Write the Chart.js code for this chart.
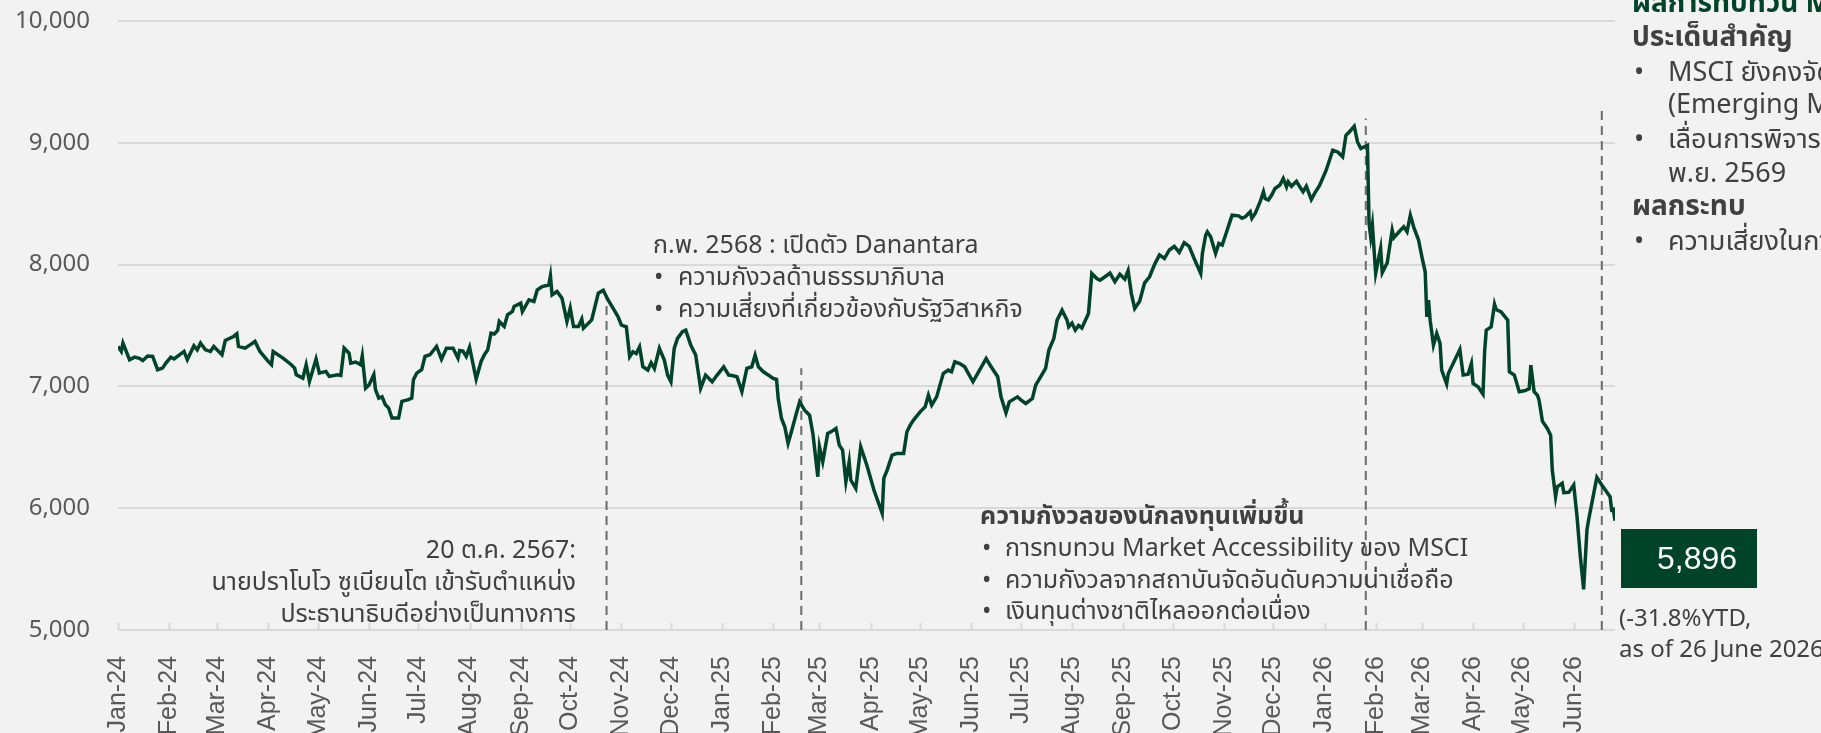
<!DOCTYPE html>
<html>
<head>
<meta charset="utf-8">
<script src="https://cdn.jsdelivr.net/npm/chart.js@4.4.1/dist/chart.umd.min.js"></script>
<style>
  html, body { margin: 0; padding: 0; background: #F2F2F2; }
  #wrap { width: 1821px; height: 733px; position: relative; }
</style>
</head>
<body>
<div id="wrap"><canvas id="setChart"></canvas></div>
<script>
// SET index, days counted from 1 Jan 2024
const tradeDay = [
  0, 2, 3, 7, 10, 13, 15, 18, 21, 24, 27, 29, 32, 34, 36, 40, 42, 46, 48, 50,
  53, 56, 58, 63, 65, 70, 72, 73, 77, 80, 83, 86, 91, 93, 94, 100, 105, 107, 108, 112,
  114, 116, 120, 122, 126, 128, 133, 135, 137, 140, 141, 144, 147, 148, 150, 152, 155, 156, 158, 160,
  162, 164, 166, 170, 172, 176, 178, 179, 181, 184, 186, 189, 193, 196, 199, 203, 206, 207, 209, 211,
  213, 217, 220, 222, 224, 226, 228, 230, 231, 234, 236, 239, 240, 244, 245, 249, 252, 254, 257, 261,
  262, 263, 266, 269, 272, 274, 276, 279, 281, 282, 287, 289, 291, 294, 297, 300, 303, 305, 308, 310,
  312, 314, 316, 318, 321, 323, 325, 328, 331, 333, 335, 337, 339, 342, 344, 347, 350, 353, 356, 360,
  363, 367, 370, 372, 375, 378, 381, 384, 386, 388, 391, 394, 397, 399, 400, 402, 404, 406, 408, 411,
  413, 416, 419, 421, 424, 425, 427, 430, 432, 435, 437, 439, 441, 443, 444, 447, 450, 454, 458, 463,
  464, 466, 469, 472, 476, 478, 480, 482, 486, 489, 491, 493, 496, 500, 503, 505, 507, 510, 513, 518,
  522, 526, 529, 533, 535, 538, 540, 545, 547, 550, 554, 556, 559, 562, 564, 567, 569, 572, 575, 576,
  578, 580, 582, 584, 588, 590, 593, 595, 598, 601, 604, 607, 610, 612, 614, 616, 619, 622, 625, 628,
  631, 634, 637, 640, 643, 646, 649, 652, 656, 657, 659, 660, 662, 665, 667, 669, 671, 673, 675, 679,
  681, 683, 686, 687, 689, 692, 694, 695, 697, 699, 701, 704, 706, 708, 709, 711, 714, 716, 718, 720,
  723, 725, 728, 732, 734, 736, 739, 742, 744, 746, 749, 751, 753, 755, 757, 758, 759, 760, 762, 765,
  766, 769, 772, 773, 777, 779, 781, 783, 785, 788, 790, 792, 793, 794, 795, 797, 799, 801, 802, 805,
  806, 813, 815, 818, 820, 821, 824, 827, 828, 829, 832, 834, 835, 838, 842, 843, 846, 849, 852, 855,
  856, 858, 860, 861, 863, 866, 868, 869, 871, 872, 875, 876, 879, 882, 884, 886, 888, 890, 891, 896,
  899, 904, 905, 906, 907
];
const setClose = [
  7328, 7287, 7355, 7219, 7240, 7230, 7213, 7250, 7246, 7137, 7150, 7191, 7240, 7225, 7246, 7287, 7220, 7333, 7300, 7355,
  7300, 7287, 7328, 7260, 7377, 7410, 7432, 7328, 7314, 7341, 7369, 7287, 7205, 7178, 7287, 7232, 7178, 7150, 7096, 7068,
  7178, 7041, 7224, 7109, 7123, 7082, 7096, 7090, 7314, 7273, 7191, 7200, 7178, 7251, 6986, 7010, 7096, 6973, 6904, 6915,
  6850, 6822, 6740, 6740, 6877, 6891, 6904, 7055, 7109, 7137, 7246, 7260, 7328, 7224, 7314, 7314, 7232, 7295, 7290, 7246,
  7322, 7060, 7205, 7260, 7300, 7437, 7430, 7459, 7533, 7492, 7587, 7615, 7656, 7683, 7615, 7710, 7697, 7792, 7820, 7833,
  7907, 7751, 7779, 7724, 7533, 7642, 7492, 7492, 7552, 7478, 7546, 7656, 7765, 7790, 7708, 7640, 7571, 7503, 7489, 7243,
  7284, 7270, 7325, 7161, 7134, 7194, 7147, 7312, 7216, 7093, 7038, 7312, 7394, 7449, 7462, 7339, 7257, 6984, 7093, 7038,
  7093, 7161, 7093, 7090, 7079, 6957, 7148, 7161, 7257, 7161, 7120, 7093, 7065, 7057, 6900, 6737, 6668, 6532, 6627, 6778,
  6873, 6805, 6764, 6614, 6258, 6504, 6381, 6614, 6627, 6655, 6518, 6477, 6218, 6381, 6231, 6163, 6504, 6340, 6149, 5958,
  6245, 6313, 6436, 6450, 6450, 6628, 6682, 6723, 6791, 6832, 6928, 6846, 6914, 7106, 7134, 7120, 7202, 7188, 7161, 7038,
  7134, 7229, 7161, 7079, 6914, 6784, 6873, 6914, 6890, 6860, 6900, 7010, 7079, 7147, 7298, 7394, 7544, 7626, 7544, 7489,
  7520, 7462, 7500, 7480, 7599, 7927, 7886, 7872, 7900, 7930, 7860, 7920, 7880, 7950, 7760, 7640, 7700, 7850, 7900, 8000,
  8080, 8050, 8120, 8150, 8100, 8180, 8150, 8050, 7927, 8091, 8241, 8269, 8228, 8091, 8173, 8160, 8241, 8324, 8406, 8400,
  8380, 8393, 8434, 8380, 8420, 8516, 8598, 8543, 8530, 8571, 8625, 8653, 8707, 8639, 8680, 8643, 8684, 8639, 8598, 8643,
  8534, 8585, 8649, 8775, 8857, 8939, 8925, 8885, 9062, 9089, 9136, 9007, 8953, 8966, 8980, 8337, 8228, 8324, 7927, 8133,
  7934, 8015, 8282, 8221, 8282, 8310, 8269, 8406, 8310, 8200, 8064, 7941, 7571, 7708, 7544, 7339, 7435, 7353, 7134, 7020,
  7106, 7303, 7093, 7100, 7188, 7024, 6997, 6937, 7284, 7462, 7489, 7675, 7631, 7612, 7544, 7120, 7093, 6956, 6964, 6980,
  7174, 6956, 6928, 6887, 6715, 6655, 6600, 6313, 6094, 6176, 6204, 6128, 6130, 6190, 5930, 5602, 5334, 5821, 5903, 6253,
  6190, 6094, 5985, 5990, 5896
];

const monthLabels = [
  'Jan-24', 'Feb-24', 'Mar-24', 'Apr-24', 'May-24', 'Jun-24', 'Jul-24', 'Aug-24', 'Sep-24', 'Oct-24', 'Nov-24', 'Dec-24',
  'Jan-25', 'Feb-25', 'Mar-25', 'Apr-25', 'May-25', 'Jun-25', 'Jul-25', 'Aug-25', 'Sep-25', 'Oct-25', 'Nov-25', 'Dec-25',
  'Jan-26', 'Feb-26', 'Mar-26', 'Apr-26', 'May-26', 'Jun-26'
];
const yTicks = [5000, 6000, 7000, 8000, 9000, 10000];

// event markers (dashed lines): day and top value
const eventDays = [296, 414, 756, 899];
const eventTops = [7720, 7150, 9200, 9290];

const lastValue = '5,896';

const startDate = new Date(2024, 0, 1);
const monthDays = monthLabels.map((_, i) => Math.round((new Date(2024, i, 1) - startDate) / 86400000));

const GREEN = '#00432B';
const TEXT = '#404040';
const AXIS_TEXT = '#595959';
const GRID = '#D9D9D9';
const THAI = "'Noto Sans Thai', 'Noto Sans', 'DejaVu Sans', sans-serif";

const datasets = [{
  data: tradeDay.map((d, i) => ({ x: d, y: setClose[i] })),
  borderColor: GREEN,
  borderWidth: 3.5,
  pointRadius: 0,
  tension: 0,
  order: 0,
}];
eventDays.forEach((d, i) => {
  datasets.push({
    data: [{ x: d, y: 5000 }, { x: d, y: eventTops[i] }],
    borderColor: '#6B6B6B',
    borderWidth: 2,
    borderDash: [9, 6],
    pointRadius: 0,
    order: 1,
  });
});

// small tick marks standing on the axis line
const innerTicks = {
  id: 'innerTicks',
  afterDatasetsDraw(chart) {
    const { ctx, scales: { x }, chartArea } = chart;
    ctx.save();
    ctx.strokeStyle = GRID;
    ctx.lineWidth = 2;
    monthDays.forEach((d) => {
      const px = Math.round(x.getPixelForValue(d)) + 0.5;
      ctx.beginPath();
      ctx.moveTo(px, chartArea.bottom);
      ctx.lineTo(px, chartArea.bottom - 7);
      ctx.stroke();
    });
    ctx.restore();
  },
};

function bulletLines(ctx, x, bx, lines) {
  lines.forEach(([txt, y, bullet]) => {
    if (bullet) {
      ctx.fillText('•', bx, y);
    }
    ctx.fillText(txt, x, y);
  });
}

const notes = {
  id: 'notes',
  afterDraw(chart) {
    const { ctx } = chart;
    ctx.save();
    ctx.textBaseline = 'alphabetic';
    ctx.fillStyle = TEXT;

    // 20 Oct 2024
    ctx.font = `25px ${THAI}`;
    ctx.textAlign = 'right';
    ctx.fillText('20 ต.ค. 2567:', 576, 558);
    ctx.fillText('นายปราโบโว ซูเบียนโต เข้ารับตำแหน่ง', 576, 590);
    ctx.fillText('ประธานาธิบดีอย่างเป็นทางการ', 576, 622);

    // Feb 2025
    ctx.textAlign = 'left';
    ctx.fillText('ก.พ. 2568 : เปิดตัว Danantara', 653, 253);
    bulletLines(ctx, 678, 654, [
      ['ความกังวลด้านธรรมาภิบาล', 285, true],
      ['ความเสี่ยงที่เกี่ยวข้องกับรัฐวิสาหกิจ', 317, true],
    ]);

    // investor worries
    ctx.font = `bold 25px ${THAI}`;
    ctx.fillText('ความกังวลของนักลงทุนเพิ่มขึ้น', 980, 524);
    ctx.font = `25px ${THAI}`;
    bulletLines(ctx, 1005, 982, [
      ['การทบทวน Market Accessibility ของ MSCI', 556, true],
      ['ความกังวลจากสถาบันจัดอันดับความน่าเชื่อถือ', 588, true],
      ['เงินทุนต่างชาติไหลออกต่อเนื่อง', 619, true],
    ]);

    // right side panel
    ctx.font = `bold 28px ${THAI}`;
    ctx.fillStyle = GREEN;
    ctx.fillText('ผลการทบทวน MSCI', 1632, 12);
    ctx.fillStyle = TEXT;
    ctx.fillText('ประเด็นสำคัญ', 1632, 46);
    ctx.fillText('ผลกระทบ', 1632, 215);
    ctx.font = `27px ${THAI}`;
    bulletLines(ctx, 1668, 1634, [
      ['MSCI ยังคงจัดไทยอยู่ในกลุ่มตลาดเกิดใหม่', 81, true],
      ['(Emerging Markets)', 113, false],
      ['เลื่อนการพิจารณาออกไปถึงเดือน', 148, true],
      ['พ.ย. 2569', 182, false],
      ['ความเสี่ยงในการถูกปรับลดสถานะ', 250, true],
    ]);

    // last value box
    ctx.fillStyle = GREEN;
    ctx.fillRect(1621, 529, 136, 59);
    ctx.fillStyle = '#FFFFFF';
    ctx.font = "32px 'Liberation Sans', Arial, sans-serif";
    ctx.textAlign = 'center';
    ctx.textBaseline = 'middle';
    ctx.fillText(lastValue, 1697, 560);

    ctx.fillStyle = TEXT;
    ctx.textAlign = 'left';
    ctx.textBaseline = 'alphabetic';
    ctx.font = `24px ${THAI}`;
    ctx.fillText('(-31.8%YTD,', 1619, 626);
    ctx.fillText('as of 26 June 2026)', 1619, 657);
    ctx.restore();
  },
};

new Chart(document.getElementById('setChart'), {
  type: 'line',
  data: { datasets },
  options: {
    responsive: true,
    maintainAspectRatio: false,
    animation: false,
    events: [],
    layout: { padding: { top: 21, right: 206, bottom: 0, left: 0 } },
    plugins: {
      legend: { display: false },
      tooltip: { enabled: false },
    },
    scales: {
      x: {
        type: 'linear',
        min: 0,
        max: tradeDay[tradeDay.length - 1],
        afterBuildTicks: (scale) => { scale.ticks = monthDays.map((v) => ({ value: v })); },
        afterFit: (scale) => {
          scale.height = 103;
          scale.paddingLeft = 0;
          scale.paddingRight = 0;
        },
        grid: { display: false },
        border: { display: false },
        ticks: {
          autoSkip: false,
          minRotation: 90,
          maxRotation: 90,
          padding: 18,
          color: AXIS_TEXT,
          font: { family: "'Liberation Sans', Arial, sans-serif", size: 25 },
          callback: (value, index) => monthLabels[index],
        },
      },
      y: {
        min: yTicks[0],
        max: yTicks[yTicks.length - 1],
        afterBuildTicks: (scale) => { scale.ticks = yTicks.map((v) => ({ value: v })); },
        afterFit: (scale) => {
          scale.width = 118;
          scale.paddingTop = 0;
          scale.paddingBottom = 0;
        },
        grid: { color: GRID, lineWidth: 2, drawTicks: false },
        border: { display: false },
        ticks: {
          padding: 28,
          color: AXIS_TEXT,
          font: { family: "'Noto Sans', sans-serif", size: 24 },
          callback: (value) => value.toLocaleString('en-US'),
        },
      },
    },
  },
  plugins: [innerTicks, notes],
});
</script>
</body>
</html>
